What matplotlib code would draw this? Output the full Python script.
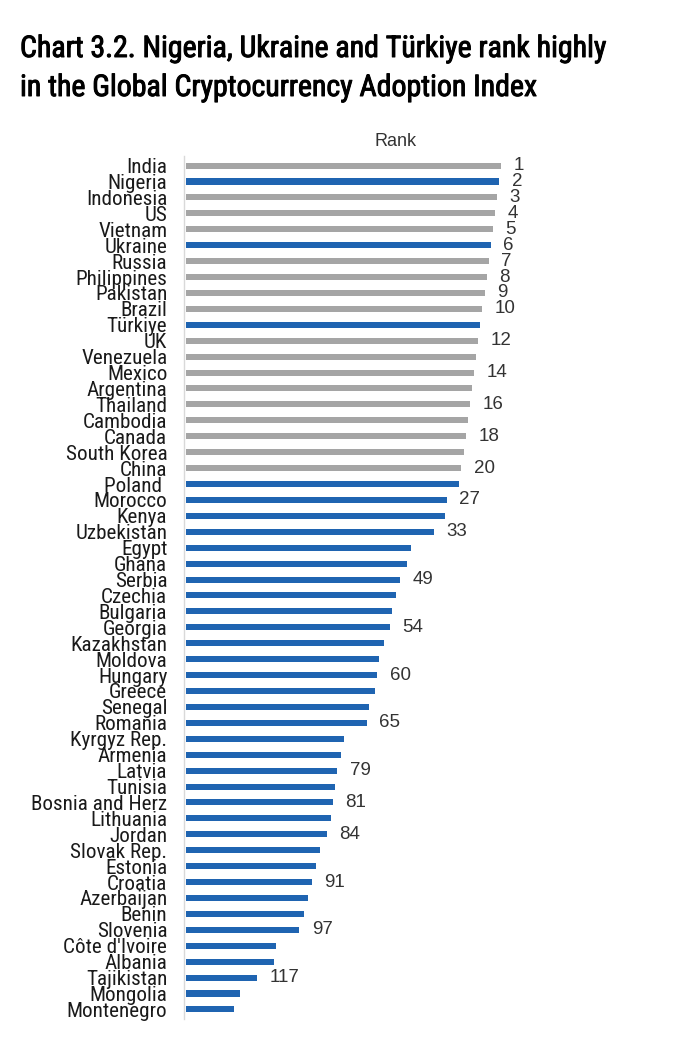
import matplotlib.pyplot as plt
import matplotlib.patheffects as pe
from matplotlib import font_manager

countries = ["India", "Nigeria", "Indonesia", "US", "Vietnam", "Ukraine", "Russia",
             "Philippines", "Pakistan", "Brazil", "Türkiye", "UK", "Venezuela", "Mexico",
             "Argentina", "Thailand", "Cambodia", "Canada", "South Korea", "China",
             "Poland ", "Morocco", "Kenya", "Uzbekistan", "Egypt", "Ghana", "Serbia",
             "Czechia", "Bulgaria", "Georgia", "Kazakhstan", "Moldova", "Hungary", "Greece",
             "Senegal", "Romania", "Kyrgyz Rep.", "Armenia", "Latvia", "Tunisia",
             "Bosnia and Herz", "Lithuania", "Jordan", "Slovak Rep.", "Estonia", "Croatia",
             "Azerbaijan", "Benin", "Slovenia", "Côte d'Ivoire", "Albania", "Tajikistan",
             "Mongolia", "Montenegro"]
ranks = [1, 2, 3, 4, 5, 6, 7, 8, 9, 10, 11, 12, 13, 14, 15, 16, 17, 18, 19, 20,
         21, 27, 28, 33, 44, 46, 49, 51, 53, 54, 57, 59, 60, 61, 64, 65, 76, 77, 79, 80,
         81, 82, 84, 87, 89, 91, 93, 95, 97, 108, 109, 117, 125, 128]
gray_countries = ["India", "Indonesia", "US", "Vietnam", "Russia", "Philippines", "Pakistan",
                  "Brazil", "UK", "Venezuela", "Mexico", "Argentina", "Thailand", "Cambodia",
                  "Canada", "South Korea", "China"]
labelled = [1, 2, 3, 4, 5, 6, 7, 8, 9, 10, 12, 14, 16, 18, 20, 27, 33, 49, 54, 60, 65,
            79, 81, 84, 91, 97, 117]

BLUE = "#1F64B1"
GRAY = "#A5A5A5"

# use a condensed face if one is installed
installed = {f.name for f in font_manager.fontManager.ttflist}
narrow_name = None
for cand in ["Liberation Sans Narrow", "Roboto Condensed", "Open Sans Condensed",
             "DejaVu Sans Condensed"]:
    if cand in installed:
        narrow_name = cand
        break

W, H = 676, 1045
fig = plt.figure(figsize=(W / 100, H / 100), dpi=100)

ax_left, ax_right = 184, 660
ax_top, ax_bot = 156, 1019
ax = fig.add_axes([ax_left / W, 1 - ax_bot / H, (ax_right - ax_left) / W, (ax_bot - ax_top) / H])

# bar length shown as inverted rank
base = 151
lengths = [base - r for r in ranks]
colors = [GRAY if c in gray_countries else BLUE for c in countries]
y = list(range(len(countries)))
ax.barh(y, lengths, height=0.38, color=colors, left=0.8)

for yi, r, L in zip(y, ranks, lengths):
    if r in labelled:
        ax.annotate(str(r), (L + 0.8, yi), xytext=(9, 0), textcoords="offset points",
                    va="center", ha="left", fontsize=13.5, color="#333333",
                    family=["Liberation Sans", "DejaVu Sans"])

ax.set_xlim(0, (ax_right - ax_left) / 2.105)
ax.set_ylim(len(countries) - 1 + 0.6, -0.6)
ax.set_yticks(y)
if narrow_name:
    ax.set_yticklabels(countries, family=[narrow_name, "DejaVu Sans"], fontsize=15.2,
                       color="#1a1a1a")
else:
    ax.set_yticklabels(countries, family=["DejaVu Sans"], fontsize=12.2, color="#1a1a1a")
ax.tick_params(axis="y", length=0, pad=12)
ax.set_xticks([])
for s in ["top", "right", "bottom"]:
    ax.spines[s].set_visible(False)
ax.spines["left"].set_color("#D9D9D9")
ax.spines["left"].set_linewidth(1.0)

if narrow_name:
    tfam, tsize = [narrow_name, "DejaVu Sans"], 21.5
else:
    tfam, tsize = ["DejaVu Sans"], 16.5
# a thin stroke gives the title a medium weight
thick = [pe.withStroke(linewidth=0.7, foreground="black")]
fig.text(20 / W, 1 - 49 / H, "Chart 3.2. Nigeria, Ukraine and Türkiye rank highly",
         fontsize=tsize, family=tfam, va="center", ha="left", color="black",
         path_effects=thick)
fig.text(20 / W, 1 - 88 / H, "in the Global Cryptocurrency Adoption Index",
         fontsize=tsize, family=tfam, va="center", ha="left", color="black",
         path_effects=thick)
fig.text(396 / W, 1 - 141 / H, "Rank", fontsize=13, family=["Liberation Sans", "DejaVu Sans"],
         va="center", ha="center", color="#333333")

fig.savefig("out.png", dpi=100)
